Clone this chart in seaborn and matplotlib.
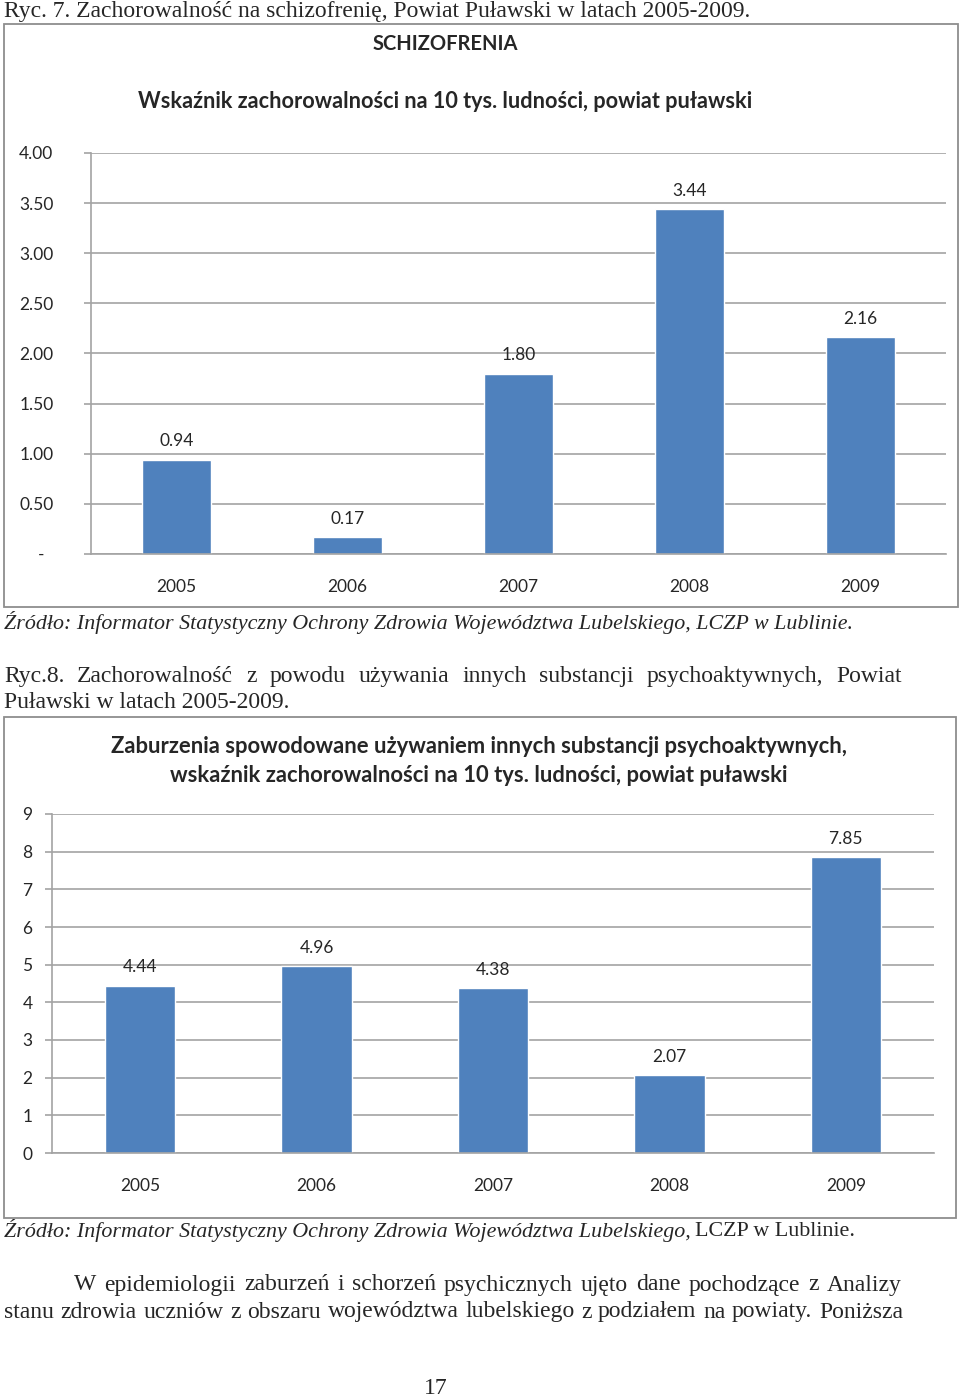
import matplotlib
matplotlib.use("Agg")
import matplotlib.pyplot as plt
import seaborn as sns
import pandas as pd
from matplotlib.patches import Rectangle

# data
years = ["2005", "2006", "2007", "2008", "2009"]
schizo_rate = [0.94, 0.17, 1.80, 3.44, 2.16]
psycho_rate = [4.44, 4.96, 4.38, 2.07, 7.85]
schizo_ticks = [0.0, 0.5, 1.0, 1.5, 2.0, 2.5, 3.0, 3.5, 4.0]
schizo_ticklabels = ["-  "] + [f"{t:.2f}" for t in schizo_ticks[1:]]
psycho_ticks = [0, 1, 2, 3, 4, 5, 6, 7, 8, 9]
psycho_ticklabels = [str(t) for t in psycho_ticks]

BAR = "#4F81BD"
GRID = "#A3A3A3"
FRAME = "#8E8E8E"
CHART_FONT = "Lato"
BODY_FONT = "Liberation Serif"
W, H = 960, 1398
BODY_SIZE = 17
ITALIC_SIZE = 15.8

sns.set_theme(style="white")
plt.rcParams["font.family"] = [CHART_FONT, "DejaVu Sans"]

fig = plt.figure(figsize=(W / 100, H / 100), dpi=100)
renderer = fig.canvas.get_renderer()


def fx(x):
    return x / W


def fy(y):
    return 1 - y / H


def box(x0, y0, x1, y1):
    return [fx(x0), fy(y1), (x1 - x0) / W, (y1 - y0) / H]


def frame(x0, y0, x1, y1):
    fig.patches.append(Rectangle((fx(x0), fy(y1)), (x1 - x0) / W, (y1 - y0) / H,
                                 transform=fig.transFigure, fill=False,
                                 edgecolor=FRAME, lw=1.3))


def body(x, y, s, **kw):
    kw.setdefault("fontsize", BODY_SIZE)
    kw.setdefault("ha", "left")
    return fig.text(fx(x), fy(y), s, family=BODY_FONT, va="center", **kw)


def justify(x0, x1, y, s):
    words = s.split()
    texts = [body(0, y, w) for w in words]
    widths = [t.get_window_extent(renderer).width for t in texts]
    gap = ((x1 - x0) - sum(widths)) / (len(words) - 1)
    x = x0
    for t, w in zip(texts, widths):
        t.set_x(fx(x))
        x += w + gap


def bar_chart(ax, values, ticks, ticklabels, ylab_pad, xlab_pad):
    df = pd.DataFrame({"rok": years, "wartosc": values})
    sns.barplot(data=df, x="rok", y="wartosc", color=BAR, width=0.4,
                saturation=1, ax=ax, errorbar=None)
    ax.set_xlim(-0.5, len(years) - 0.5)
    ax.set_ylim(ticks[0], ticks[-1])
    ax.set_yticks(ticks, ticklabels)
    ax.set_xlabel("")
    ax.set_ylabel("")
    ax.grid(axis="y", color=GRID, lw=1.2)
    ax.set_axisbelow(True)
    for side in ["top", "right"]:
        ax.spines[side].set_visible(False)
    for side in ["left", "bottom"]:
        ax.spines[side].set_color(GRID)
        ax.spines[side].set_linewidth(1.2)
    ax.set_xticks([i - 0.5 for i in range(len(years) + 1)], minor=True)
    ax.tick_params(axis="x", which="major", length=0, pad=xlab_pad, labelsize=12.5)
    ax.tick_params(axis="x", which="minor", length=5, width=1.2, color=GRID, direction="out")
    ax.tick_params(axis="y", length=5, width=1.2, color=GRID, direction="out",
                   pad=ylab_pad, labelsize=12.5, left=True)
    ax.bar_label(ax.containers[0], fmt="{:.2f}", padding=7.5, fontsize=12.5)


# ---- figure 7 ----
body(4, 12, "Ryc. 7. Zachorowalność na schizofrenię, Powiat Puławski w latach 2005-2009.")
frame(4, 24, 958, 607)
fig.text(fx(445), fy(44), "SCHIZOFRENIA", ha="center", va="center",
         fontsize=14.5, fontweight="bold")
fig.text(fx(445), fy(101), "Wskaźnik zachorowalności na 10 tys. ludności, powiat puławski",
         ha="center", va="center", fontsize=15.6, fontweight="bold")
ax1 = fig.add_axes(box(91, 153, 946, 554))
bar_chart(ax1, schizo_rate, schizo_ticks, schizo_ticklabels, ylab_pad=22, xlab_pad=18)
body(4, 622, "Źródło: Informator Statystyczny Ochrony Zdrowia Województwa Lubelskiego, "
     "LCZP w Lublinie.", style="italic", fontsize=ITALIC_SIZE)

# ---- figure 8 ----
justify(4, 902, 676, "Ryc.8. Zachorowalność z powodu używania innych substancji "
        "psychoaktywnych, Powiat")
body(4, 703, "Puławski w latach 2005-2009.")
frame(4, 717, 956, 1218)
fig.text(fx(479), fy(761), "Zaburzenia spowodowane używaniem innych substancji psychoaktywnych,\n"
         "wskaźnik zachorowalności na 10 tys. ludności, powiat puławski",
         ha="center", va="center", fontsize=15.8, fontweight="bold", linespacing=1.45)
ax2 = fig.add_axes(box(52, 814, 934, 1153))
bar_chart(ax2, psycho_rate, psycho_ticks, psycho_ticklabels, ylab_pad=9, xlab_pad=18)
src = body(4, 1231, "Źródło: Informator Statystyczny Ochrony Zdrowia Województwa "
           "Lubelskiego,", style="italic", fontsize=ITALIC_SIZE)
src_w = src.get_window_extent(renderer).width
body(4 + src_w + 4, 1231, "LCZP w Lublinie.", fontsize=ITALIC_SIZE)

# ---- body text ----
justify(74, 902, 1285, "W epidemiologii zaburzeń i schorzeń psychicznych ujęto dane "
        "pochodzące z Analizy")
justify(4, 903, 1312, "stanu zdrowia uczniów z obszaru województwa lubelskiego z "
        "podziałem na powiaty. Poniższa")
body(436, 1389, "17", ha="center")

fig.savefig("out.png", dpi=100)
